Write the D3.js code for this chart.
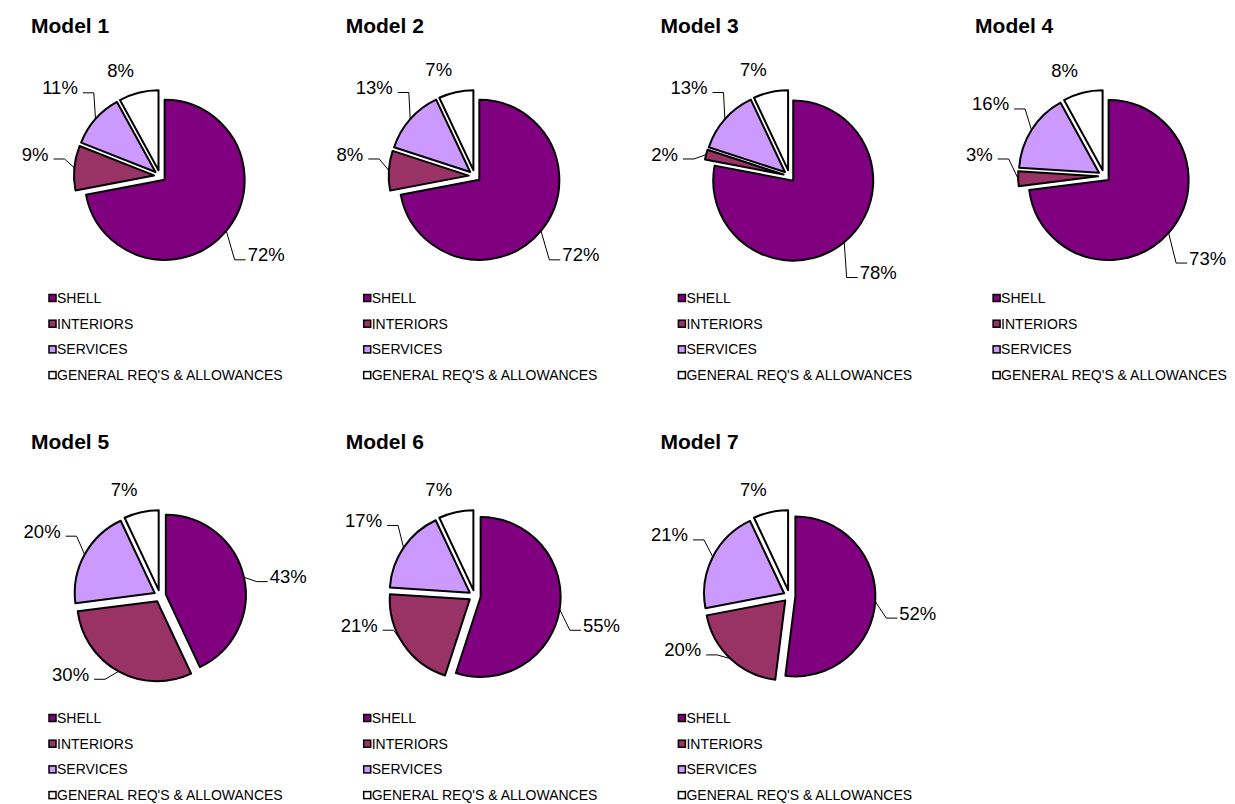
<!DOCTYPE html>
<html>
<head>
<meta charset="utf-8">
<script src="https://cdn.jsdelivr.net/npm/d3@7"></script>
<style>
  html, body { margin: 0; padding: 0; background: #ffffff; }
  svg { display: block; font-family: "Liberation Sans", Arial, sans-serif; }
</style>
</head>
<body>
<svg id="chart" width="1235" height="804"></svg>
<script>
// ---- data ----
const models     = ["Model 1", "Model 2", "Model 3", "Model 4", "Model 5", "Model 6", "Model 7"];
const categories = ["SHELL", "INTERIORS", "SERVICES", "GENERAL REQ'S & ALLOWANCES"];
const shell      = [72, 72, 78, 73, 43, 55, 52];
const interiors  = [9, 8, 2, 3, 30, 21, 20];
const services   = [11, 13, 13, 16, 20, 17, 21];
const general    = [8, 7, 7, 8, 7, 7, 7];
const colors     = ["#800080", "#993366", "#CC99FF", "#FFFFFF"];

// ---- layout ----
const colStep = 314.7, rowStep = 420;
const R = 80, explode = 6;
const pieCx = 160, pieCy = 176;
const labelFont = 18.5;

const svg = d3.select("#chart");
const color = d3.scaleOrdinal().domain(categories).range(colors);
const pie = d3.pie().sort(null).value(d => d.value);
const arc = d3.arc().innerRadius(0).outerRadius(R);

// "best fit"-like placement of outside labels: returns [angleDeg, gap, leader?]
function labelPlacement(midDeg) {
  if (midDeg >= 330 || midDeg < 30) return [midDeg - 6, 20, false];
  if (midDeg < 110) return [midDeg + 4, 30, true];
  if (midDeg < 180) return [midDeg - 3, 32, true];
  if (midDeg < 250) return [midDeg + 20, 19, true];
  if (midDeg < 290) return [280, 32, true];
  return [midDeg, 34, true];
}

models.forEach((name, i) => {
  const col = i % 4, row = Math.floor(i / 4);
  const g = svg.append("g").attr("transform", `translate(${col * colStep},${row * rowStep})`);

  g.append("text")
    .attr("x", 31).attr("y", 33 - row * 4)
    .attr("font-size", 21).attr("font-weight", "bold")
    .attr("fill", "#000")
    .text(name);

  const values = [shell[i], interiors[i], services[i], general[i]];
  const data = categories.map((c, j) => ({ cat: c, value: values[j] }));
  const total = d3.sum(values);
  const arcs = pie(data);

  const pg = g.append("g").attr("transform", `translate(${pieCx},${pieCy})`);

  arcs.forEach(a => {
    const mid = (a.startAngle + a.endAngle) / 2;
    const ux = Math.sin(mid), uy = -Math.cos(mid);
    const ox = ux * explode, oy = uy * explode;
    pg.append("path")
      .attr("d", arc(a))
      .attr("transform", `translate(${ox},${oy})`)
      .attr("fill", color(a.data.cat))
      .attr("stroke", "#000")
      .attr("stroke-width", 2)
      .attr("stroke-linejoin", "round");

    // label
    const pct = Math.round(a.data.value / total * 100) + "%";
    const t = pg.append("text")
      .attr("font-size", labelFont)
      .attr("fill", "#000")
      .attr("text-anchor", "middle")
      .text(pct);
    const w = t.node().getComputedTextLength();
    const h = 18;
    const midDeg = mid * 180 / Math.PI;
    const [angDeg, k, leader] = labelPlacement(midDeg);
    const ang = angDeg * Math.PI / 180;
    const lx = Math.sin(ang), ly0 = -Math.cos(ang);
    const ext = Math.abs(lx) * w / 2 + Math.abs(ly0) * h / 2;
    const dist = R + k + ext;
    const cx = lx * dist, cy = ly0 * dist;
    t.attr("x", cx).attr("y", cy + 6.5);

    if (leader) {
      const ex = ox + ux * R, ey = oy + uy * R;
      const ly = cy + 5;
      let p1x, p2x;
      if (lx < 0) { p1x = cx + w / 2 + 5; p2x = p1x + 11; }
      else { p1x = cx - w / 2 - 2; p2x = p1x - 11; }
      pg.append("path")
        .attr("d", d3.line()([[p1x, ly], [p2x, ly], [ex, ey]]))
        .attr("fill", "none")
        .attr("stroke", "#000")
        .attr("stroke-width", 1);
    }
  });

  // legend
  const lg = g.append("g");
  categories.forEach((c, j) => {
    const by = 303 + j * 25.7;
    lg.append("rect")
      .attr("x", 49).attr("y", by - 8.5)
      .attr("width", 7).attr("height", 7)
      .attr("fill", color(c))
      .attr("stroke", "#000")
      .attr("stroke-width", 1.5);
    lg.append("text")
      .attr("x", 57).attr("y", by)
      .attr("font-size", 14)
      .attr("fill", "#000")
      .text(c);
  });
});
</script>
</body>
</html>
